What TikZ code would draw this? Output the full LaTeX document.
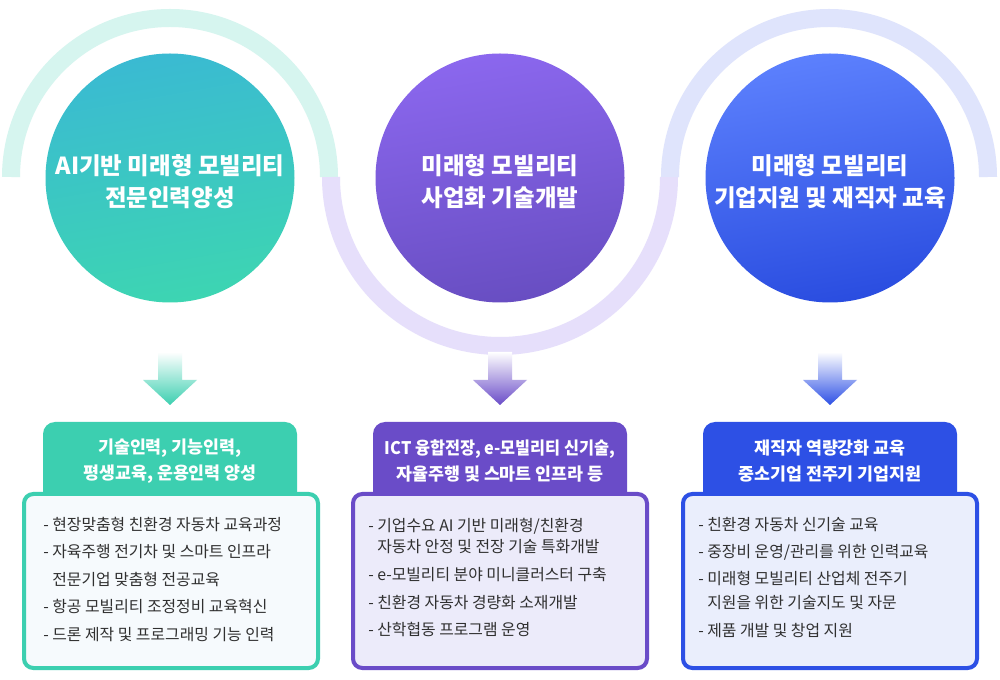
\documentclass[tikz,border=0pt]{standalone}
\usepackage{fontspec}
\usepackage{graphicx}
\setmainfont{Noto Sans CJK KR}
\usetikzlibrary{calc}
\definecolor{arcA}{HTML}{D6F5EF}
\definecolor{arcB}{HTML}{E6DFFB}
\definecolor{arcC}{HTML}{DFE4FC}
\definecolor{cAtop}{HTML}{3ABAD2}
\definecolor{cAbot}{HTML}{3DD5B2}
\definecolor{cBtop}{HTML}{8B67EE}
\definecolor{cBbot}{HTML}{684EC2}
\definecolor{cCtop}{HTML}{5C80FD}
\definecolor{cCbot}{HTML}{2A4DE0}
\definecolor{mainA}{HTML}{3CCFB0}
\definecolor{mainB}{HTML}{6A4CC8}
\definecolor{mainC}{HTML}{2D50E5}
\definecolor{fillA}{HTML}{F6FAFD}
\definecolor{fillB}{HTML}{ECEBFA}
\definecolor{fillC}{HTML}{EAEEFC}
\definecolor{bodytext}{HTML}{303030}
\begin{document}
\begin{tikzpicture}[x=0.75pt,y=-0.75pt,
  arcline/.style={line width=13.5pt},
  circ/.style={circle, minimum size=186.75pt, inner sep=0pt},
  ctext/.style={text=white, font=\fontsize{17.6}{24}\selectfont\bfseries, align=center},
  tabtext/.style={text=white, font=\fontsize{13}{19}\selectfont\bfseries, align=center},
  bodybox/.style={draw, line width=3pt, rounded corners=7pt, minimum width=220.5pt, minimum height=130.5pt, inner sep=0pt},
  itemtext/.style={text=bodytext, font=\fontsize{11.9}{14}\selectfont, anchor=base west, inner sep=0pt},
]
\useasboundingbox (0,0) rectangle (1000,680);
\fill[white] (0,0) rectangle (1000,680);

% arcs
\draw[arcline, arcA] (11,177) arc[start angle=180, end angle=0, radius=119.25pt];
\draw[arcline, arcB] (331,177) arc[start angle=180, end angle=360, radius=126.75pt];
\draw[arcline, arcC] (670,177) arc[start angle=180, end angle=0, radius=119.25pt];

% circles
\node[circ, top color=cAtop, bottom color=cAbot, shading angle=10] (c1) at (170,178) {};
\node[circ, top color=cBtop, bottom color=cBbot, shading angle=10] (c2) at (500,178) {};
\node[circ, top color=cCtop, bottom color=cCbot, shading angle=10] (c3) at (830,178) {};
\node[ctext] (t1) at (170,182) {AI기반 미래형 모빌리티\\전문인력양성};
\node[ctext] (t2) at (500,182) {미래형 모빌리티\\사업화 기술개발};
\node[ctext] (t3) at (830,182) {미래형 모빌리티\\기업지원 및 재직자 교육};

% arrows
\foreach \cx/\col/\nm in {170/mainA/a1, 500/mainB/a2, 830/mainC/a3}{
  \shade[top color=white, bottom color=\col]
    (\cx-12,352) -- (\cx+12,352) -- (\cx+12,380) -- (\cx+27,380) -- (\cx,405) -- (\cx-27,380) -- (\cx-12,380) -- cycle;
  \coordinate (\nm) at (\cx,405);
}

% tabs
\fill[mainA, rounded corners=9pt] (43,505) -- (43,422) -- (297,422) -- (297,505) -- cycle;
\fill[mainB, rounded corners=9pt] (373,505) -- (373,422) -- (627,422) -- (627,505) -- cycle;
\fill[mainC, rounded corners=9pt] (703,505) -- (703,422) -- (957,422) -- (957,505) -- cycle;
\node[tabtext] (h1) at (170,461) {기술인력, 기능인력,\\평생교육, 운용인력 양성};
\node[tabtext] (h2) at (500,461) {\scalebox{0.94}[1]{ICT 융합전장, e-모빌리티 신기술,}\\자율주행 및 스마트 인프라 등};
\node[tabtext] (h3) at (830,461) {재직자 역량강화 교육\\중소기업 전주기 기업지원};

% boxes
\node[bodybox, draw=mainA, fill=fillA] (b1) at (171,581) {};
\node[bodybox, draw=mainB, fill=fillB] (b2) at (500,581) {};
\node[bodybox, draw=mainC, fill=fillC] (b3) at (830,581) {};

% box 1 text
\node[itemtext] (l11) at (43,530.5) {- 현장맞춤형 친환경 자동차 교육과정};
\node[itemtext] (l12) at (43,557.5) {- 자육주행 전기차 및 스마트 인프라};
\node[itemtext] (l13) at (43,585.5) {\phantom{- }전문기업 맞춤형 전공교육};
\node[itemtext] (l14) at (43,612.5) {- 항공 모빌리티 조정정비 교육혁신};
\node[itemtext] (l15) at (43,640.5) {- 드론 제작 및 프로그래밍 기능 인력};

% box 2 text
\node[itemtext] (l21) at (368,531.5) {- 기업수요 AI 기반 미래형/친환경};
\node[itemtext] (l22) at (368,552.5) {\phantom{- }자동차 안정 및 전장 기술 특화개발};
\node[itemtext] (l23) at (368,580.5) {- e-모빌리티 분야 미니클러스터 구축};
\node[itemtext] (l24) at (368,608.5) {- 친환경 자동차 경량화 소재개발};
\node[itemtext] (l25) at (368,635.5) {- 산학협동 프로그램 운영};

% box 3 text
\node[itemtext] (l31) at (698,530.5) {- 친환경 자동차 신기술 교육};
\node[itemtext] (l32) at (698,557.5) {- 중장비 운영/관리를 위한 인력교육};
\node[itemtext] (l33) at (698,584.5) {- 미래형 모빌리티 산업체 전주기};
\node[itemtext] (l34) at (698,608.5) {\phantom{- }지원을 위한 기술지도 및 자문};
\node[itemtext] (l35) at (698,636.5) {- 제품 개발 및 창업 지원};
\end{tikzpicture}
\end{document}
